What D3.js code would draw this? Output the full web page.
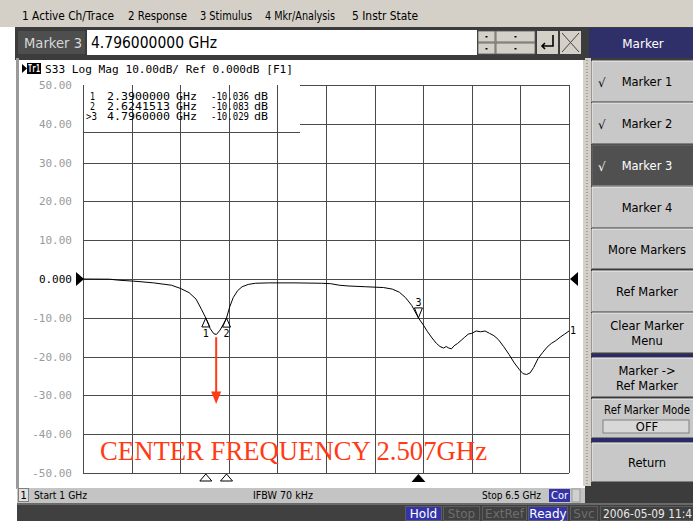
<!DOCTYPE html>
<html><head><meta charset="utf-8">
<script src="https://cdn.jsdelivr.net/npm/d3@7"></script>
<style>body{margin:0;background:#fff;}svg{display:block;}</style>
</head><body>
<script>
// ---- data ----
const freqGHz = [1.0,1.3,1.4,1.6,1.8,2.0,2.1,2.2,2.28,2.34,2.39,2.44,2.48,2.51,2.55,2.59,2.624,2.66,2.70,2.75,2.80,2.87,2.95,3.1,3.4,3.7,3.8,3.9,4.0,4.2,4.4,4.5,4.58,4.65,4.72,4.796,4.85,4.9,4.95,5.0,5.04,5.08,5.11,5.14,5.17,5.2,5.24,5.28,5.32,5.36,5.40,5.45,5.5,5.55,5.6,5.65,5.7,5.76,5.82,5.88,5.94,5.98,6.02,6.06,6.1,6.15,6.2,6.25,6.3,6.35,6.4,6.45,6.5];
const s33dB = [0,-0.05,-0.3,-0.6,-1.0,-1.6,-2.4,-3.5,-5.2,-7.8,-10.04,-12.8,-14.1,-14.3,-13.2,-11.6,-10.08,-7.2,-4.8,-3.0,-2.0,-1.4,-1.1,-1.0,-1.0,-1.1,-1.2,-1.6,-1.8,-2.0,-2.2,-2.6,-3.4,-4.8,-6.8,-10.03,-11.8,-13.6,-15.2,-16.6,-17.4,-17.8,-17.4,-17.8,-18.0,-17.2,-16.6,-15.8,-15.0,-14.2,-14.0,-13.4,-13.6,-13.4,-14.0,-14.6,-15.6,-17.4,-19.4,-21.6,-23.4,-24.4,-24.6,-24.2,-22.8,-20.5,-19.0,-17.6,-16.6,-15.9,-15.0,-14.2,-13.4];
const markerIds = ["1","2","3"];
const markerFreq = [2.39, 2.6241513, 4.796];
const markerDB = [-10.036, -10.083, -10.029];
const markerFreqText = ["2.3900000","2.6241513","4.7960000"];
const markerDBText = ["-10.036","-10.083","-10.029"];
const yTicks = [50,40,30,20,10,0,-10,-20,-30,-40,-50];
const yTickLabels = ["50.00","40.00","30.00","20.00","10.00","0.000","-10.00","-20.00","-30.00","-40.00","-50.00"];
const xTicks = [1,1.55,2.1,2.65,3.2,3.75,4.3,4.85,5.4,5.95,6.5];
const menuItems = ["1 Active Ch/Trace","2 Response","3 Stimulus","4 Mkr/Analysis","5 Instr State"];
const softkeys = [["Marker 1"],["Marker 2"],["Marker 3"],["Marker 4"],["More Markers"],["Ref Marker"],["Clear Marker","Menu"],["Marker ->","Ref Marker"],["Ref Marker Mode"],["Return"]];
const centerFreqLabel = "CENTER FREQUENCY 2.507GHz";
const centerFreq = 2.507;

const W=693,H=521;
const svg = d3.select("body").append("svg").attr("width",W).attr("height",H);
const UI = "Tahoma, 'DejaVu Sans', sans-serif";
const MONO = "'DejaVu Sans Mono', 'Liberation Mono', monospace";

// ---- background UI ----
svg.append("rect").attr("x",0).attr("y",0).attr("width",W).attr("height",H).attr("fill","#ffffff");
svg.append("rect").attr("x",0).attr("y",0).attr("width",W).attr("height",27).attr("fill","#d4d0c8");
const menuX = [[22,92],[128,59],[200,52],[265,70],[352,66]];
menuItems.forEach((m,i)=>{
  svg.append("text").attr("x",menuX[i][0]).attr("y",20).attr("font-family",UI).attr("font-size",12)
    .attr("textLength",menuX[i][1]).attr("lengthAdjust","spacingAndGlyphs").attr("fill","#000").text(m);
});
svg.append("rect").attr("x",15).attr("y",27).attr("width",570).attr("height",31).attr("fill","#3c3c3c");
svg.append("rect").attr("x",18).attr("y",31).attr("width",67).attr("height",23).attr("fill","#4e4e4e");
svg.append("text").attr("x",24).attr("y",48).attr("font-family",UI).attr("font-size",14).attr("fill","#d8d8d8")
  .attr("textLength",58).attr("lengthAdjust","spacingAndGlyphs").text("Marker 3");
svg.append("rect").attr("x",87).attr("y",30).attr("width",390).attr("height",25).attr("fill","#ffffff");
svg.append("text").attr("x",91).attr("y",48).attr("font-family",UI).attr("font-size",15).attr("fill","#000")
  .attr("textLength",126).attr("lengthAdjust","spacingAndGlyphs").text("4.796000000 GHz");
svg.append("rect").attr("x",478).attr("y",31).attr("width",57).attr("height",23).attr("fill","#d4d0c8");
[[478,31,17,11],[478,43,17,11],[496,31,39,11],[496,43,39,11]].forEach(b=>{
  svg.append("rect").attr("x",b[0]).attr("y",b[1]).attr("width",b[2]).attr("height",b[3]).attr("fill","#d4d0c8").attr("stroke","#555").attr("stroke-width",0.8);
  svg.append("rect").attr("x",b[0]+b[2]/2-1).attr("y",b[1]+5).attr("width",2).attr("height",1.5).attr("fill","#000");
});
svg.append("rect").attr("x",537).attr("y",31).attr("width",21).attr("height",23).attr("fill","#d4d0c8");
svg.append("path").attr("d","M553,35 V46 H542 M545,43 L542,46 L545,49").attr("fill","none").attr("stroke","#000").attr("stroke-width",1.6);
svg.append("rect").attr("x",560).attr("y",31).attr("width",21).attr("height",23).attr("fill","#d4d0c8");
svg.append("path").attr("d","M562,33 L579,52 M579,33 L562,52").attr("stroke","#444").attr("stroke-width",1);

// right panel
svg.append("rect").attr("x",585).attr("y",27).attr("width",108).attr("height",476).attr("fill","#3c3c3c");
svg.append("rect").attr("x",589).attr("y",28).attr("width",104).attr("height",30).attr("fill","#2f2f6a");
svg.append("text").attr("x",643).attr("y",48).attr("text-anchor","middle").attr("font-family",UI).attr("font-size",12).attr("fill","#ffffff").text("Marker");
svg.append("rect").attr("x",583).attr("y",58).attr("width",8).attr("height",428).attr("fill","#d4d0c8");
svg.append("line").attr("x1",587).attr("x2",587).attr("y1",60).attr("y2",484).attr("stroke","#777").attr("stroke-dasharray","1,2");
const keyY = [[61,41],[103,41],[145,41],[187,41],[229,40],[271,41],[313,40],[358,39],[399,39],[443,39]];
softkeys.forEach((k,i)=>{
  const [y,h]=keyY[i];
  const active = i===2;
  svg.append("rect").attr("x",592).attr("y",y).attr("width",101).attr("height",h).attr("fill",active?"#505050":"#c8c8c8");
  svg.append("path").attr("d",`M592,${y+h} V${y} H693`).attr("fill","none").attr("stroke",active?"#6a6a6a":"#f0f0f0").attr("stroke-width",1);
  svg.append("line").attr("x1",592).attr("x2",693).attr("y1",y+h-0.5).attr("y2",y+h-0.5).attr("stroke","#808080");
  const cx = 647;
  if(i===8){
    svg.append("text").attr("x",cx).attr("y",y+15).attr("text-anchor","middle").attr("font-family",UI).attr("font-size",11.5).attr("fill","#000")
      .attr("textLength",86).attr("lengthAdjust","spacingAndGlyphs").text(k[0]);
    svg.append("rect").attr("x",603).attr("y",y+21).attr("width",86).attr("height",13).attr("fill","#d8d8d8").attr("stroke","#808080");
    svg.append("text").attr("x",cx).attr("y",y+32).attr("text-anchor","middle").attr("font-family",UI).attr("font-size",11.5).attr("fill","#000").text("OFF");
  } else if(k.length===2){
    svg.append("text").attr("x",cx).attr("y",y+17).attr("text-anchor","middle").attr("font-family",UI).attr("font-size",11.5).attr("fill","#000").text(k[0]);
    svg.append("text").attr("x",cx).attr("y",y+32).attr("text-anchor","middle").attr("font-family",UI).attr("font-size",11.5).attr("fill","#000").text(k[1]);
  } else {
    svg.append("text").attr("x",cx).attr("y",y+h/2+4.5).attr("text-anchor","middle").attr("font-family",UI).attr("font-size",11.5)
      .attr("fill",active?"#ffffff":"#000").text(k[0]);
  }
  if(i<3){
    svg.append("text").attr("x",598).attr("y",y+h/2+5).attr("font-family","'DejaVu Sans',sans-serif").attr("font-size",12).attr("fill",active?"#fff":"#000").text("√");
  }
});
[[354,3],[438,4]].forEach(s=>svg.append("rect").attr("x",592).attr("y",s[0]).attr("width",101).attr("height",s[1]).attr("fill","#2a2a66"));

// chart window frame
svg.append("rect").attr("x",15).attr("y",58).attr("width",570).attr("height",2).attr("fill","#3c3c3c");
svg.append("rect").attr("x",16).attr("y",58).attr("width",3).attr("height",431).attr("fill","#9a9a9a");

// channel status bar
svg.append("rect").attr("x",17).attr("y",488).attr("width",568).attr("height",15).attr("fill","#c4c4c4");
svg.append("rect").attr("x",18.5).attr("y",488.5).attr("width",10).attr("height",13).attr("fill","#e0e0e0").attr("stroke","#808080");
svg.append("text").attr("x",23.5).attr("y",499).attr("text-anchor","middle").attr("font-family",UI).attr("font-size",10.5).attr("fill","#000").text("1");
svg.append("text").attr("x",34).attr("y",499).attr("font-family",UI).attr("font-size",11).attr("fill","#000").attr("textLength",53).attr("lengthAdjust","spacingAndGlyphs").text("Start 1 GHz");
svg.append("text").attr("x",253).attr("y",499).attr("font-family",UI).attr("font-size",11).attr("fill","#000").attr("textLength",60).attr("lengthAdjust","spacingAndGlyphs").text("IFBW 70 kHz");
svg.append("text").attr("x",482).attr("y",499).attr("font-family",UI).attr("font-size",11).attr("fill","#000").attr("textLength",59).attr("lengthAdjust","spacingAndGlyphs").text("Stop 6.5 GHz");
svg.append("rect").attr("x",549).attr("y",489).attr("width",21).attr("height",13).attr("fill","#3434a8");
svg.append("text").attr("x",559.5).attr("y",499).attr("text-anchor","middle").attr("font-family",UI).attr("font-size",10.5).attr("fill","#fff")
  .attr("textLength",17).attr("lengthAdjust","spacingAndGlyphs").text("Cor");
svg.append("rect").attr("x",572).attr("y",489).attr("width",8).attr("height",13).attr("fill","#d0d0d0").attr("stroke","#999");

// bottom status bar
svg.append("rect").attr("x",17).attr("y",503).attr("width",676).attr("height",18).attr("fill","#404040");
svg.append("rect").attr("x",17).attr("y",503).attr("width",676).attr("height",2).attr("fill","#6a6a6a");
const statusBoxes = [["Hold",405,37,"#3434a8","#ffffff"],["Stop",443,37,"#404040","#6e6e6e"],["ExtRef",482,45,"#404040","#6e6e6e"],["Ready",528,40,"#3434a8","#ffffff"],["Svc",570,28,"#404040","#6e6e6e"]];
statusBoxes.forEach(b=>{
  svg.append("rect").attr("x",b[1]+0.5).attr("y",506.5).attr("width",b[2]-1).attr("height",14).attr("fill",b[3]).attr("stroke","#5c5c5c");
  svg.append("text").attr("x",b[1]+b[2]/2).attr("y",518).attr("text-anchor","middle")
    .attr("font-family",UI).attr("font-size",12).attr("fill",b[4]).text(b[0]);
});
svg.append("rect").attr("x",600.5).attr("y",506.5).attr("width",100).attr("height",14).attr("fill","#404040").attr("stroke","#5c5c5c");
svg.append("text").attr("x",603).attr("y",518).attr("font-family",UI).attr("font-size",12).attr("fill","#e8e8e8")
  .attr("textLength",89).attr("lengthAdjust","spacingAndGlyphs").text("2006-05-09 11:4");

// ---- plot ----
const x = d3.scaleLinear().domain([1,6.5]).range([83,569]);
const y = d3.scaleLinear().domain([-50,50]).range([473,85]);
const g = svg.append("g");

g.append("path").attr("d","M22,64 L27,68.5 L22,73 Z").attr("fill","#000");
g.append("rect").attr("x",27).attr("y",63).attr("width",14).attr("height",11).attr("fill","#000");
g.append("text").attr("x",28).attr("y",72).attr("font-family",MONO).attr("font-size",10).attr("font-weight","bold").attr("fill","#fff")
  .attr("textLength",12).attr("lengthAdjust","spacingAndGlyphs").text("Tr1");
g.append("text").attr("x",45).attr("y",72.5).attr("font-family",MONO).attr("font-size",11).attr("fill","#000")
  .attr("textLength",248).attr("lengthAdjust","spacingAndGlyphs").text("S33 Log Mag 10.00dB/ Ref 0.000dB [F1]");

g.selectAll("line.h").data(yTicks).join("line")
  .attr("x1",d=>d===40?300:x(1)).attr("x2",x(6.5)).attr("y1",d=>Math.round(y(d))+0.5).attr("y2",d=>Math.round(y(d))+0.5)
  .attr("stroke","#4a4a4a").attr("stroke-width",1);
g.append("rect").attr("x",83).attr("y",85).attr("width",217).attr("height",47).attr("fill","#fff");
g.append("line").attr("x1",83).attr("x2",300).attr("y1",132.5).attr("y2",132.5).attr("stroke","#4a4a4a");
g.selectAll("line.v").data(xTicks).join("line")
  .attr("x1",d=>Math.round(x(d))+0.5).attr("x2",d=>Math.round(x(d))+0.5).attr("y1",y(50)).attr("y2",y(-50))
  .attr("stroke","#4a4a4a").attr("stroke-width",1);

g.selectAll("text.yl").data(yTicks).join("text")
  .attr("x",72).attr("y",d=>y(d)+4).attr("text-anchor","end").attr("font-family",MONO).attr("font-size",11)
  .attr("fill",d=>d===0?"#000":"#9a9a9a").text((d,i)=>yTickLabels[i]);

// marker table text
markerIds.forEach((id,i)=>{
  const ty = 100 + i*10;
  const t = (s,xx,len)=>{const e=g.append("text").attr("x",xx).attr("y",ty).attr("font-family",MONO).attr("font-size",10.5).attr("fill","#000").text(s);
    if(len) e.attr("textLength",len).attr("lengthAdjust","spacingAndGlyphs"); return e;};
  if(i===2) t(">"+id,86,11); else t(id,90,5);
  t(markerFreqText[i],107,63);
  t("GHz",176,21);
  t(markerDBText[i],211,38);
  t("dB",254,14);
});

const line = d3.line().x((d,i)=>x(freqGHz[i])).y(d=>y(d));
g.append("path").datum(s33dB).attr("d",line).attr("fill","none").attr("stroke","#000").attr("stroke-width",1);

g.append("path").attr("d",`M76,${y(0)-7} L84,${y(0)} L76,${y(0)+7} Z`).attr("fill","#000");
g.append("path").attr("d",`M578,${y(0)-7} L570,${y(0)} L578,${y(0)+7} Z`).attr("fill","#000");

markerIds.forEach((id,i)=>{
  const mx = x(markerFreq[i]), my = y(markerDB[i]);
  if(i<2){
    g.append("path").attr("d",`M${mx},${my} L${mx-4},${my+9} L${mx+4},${my+9} Z`).attr("fill","none").attr("stroke","#000").attr("stroke-width",1);
    g.append("text").attr("x",mx).attr("y",my+19).attr("text-anchor","middle").attr("font-family",MONO).attr("font-size",10).attr("fill","#000").text(id);
    g.append("path").attr("d",`M${mx},474 L${mx-6},481 L${mx+6},481 Z`).attr("fill","#fff").attr("stroke","#000").attr("stroke-width",1);
  } else {
    g.append("path").attr("d",`M${mx},${my} L${mx-4},${my-10} L${mx+4},${my-10} Z`).attr("fill","none").attr("stroke","#000").attr("stroke-width",1);
    g.append("text").attr("x",mx).attr("y",my-12).attr("text-anchor","middle").attr("font-family",MONO).attr("font-size",10).attr("fill","#000").text(id);
    g.append("path").attr("d",`M${mx},474 L${mx-7},482 L${mx+7},482 Z`).attr("fill","#000");
  }
});
g.append("text").attr("x",x(6.5)+1).attr("y",y(s33dB[s33dB.length-1])+3).attr("font-family",MONO).attr("font-size",10).attr("fill","#000").text("1");

const red = "#ff3a14";
const ax = x(centerFreq);
g.append("line").attr("x1",ax).attr("x2",ax).attr("y1",y(-15)).attr("y2",y(-30)).attr("stroke",red).attr("stroke-width",2);
g.append("path").attr("d",`M${ax-5},${y(-29)} L${ax+5},${y(-29)} L${ax},${y(-32.2)} Z`).attr("fill",red);
g.append("text").attr("x",100).attr("y",460).attr("font-family","'Liberation Serif','Times New Roman',serif").attr("font-size",27)
  .attr("fill",red).attr("textLength",387).attr("lengthAdjust","spacingAndGlyphs").text(centerFreqLabel);
</script>
</body></html>
